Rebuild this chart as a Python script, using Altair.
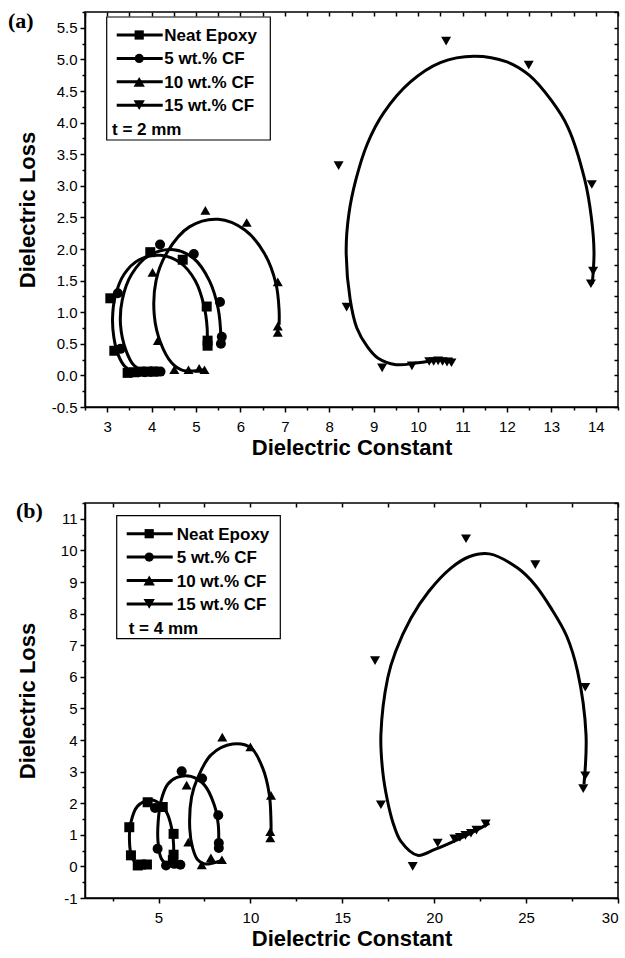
import altair as alt
import pandas as pd

SERIES = ["Neat Epoxy", "5 wt.% CF", "10 wt.% CF", "15 wt.% CF"]
SHAPES = ["square", "circle", "triangle-up", "triangle-down"]

# ---------------- panel (a): t = 2 mm  (measured points) ----------------
A_NEAT_X = [3.07, 3.16, 3.46, 3.60, 3.75, 3.90, 4.05, 3.97, 4.70, 5.24, 5.26, 5.26]
A_NEAT_Y = [1.22, 0.39, 0.04, 0.05, 0.06, 0.06, 0.06, 1.95, 1.83, 1.09, 0.55, 0.47]
A_CF5_X = [3.24, 3.30, 3.70, 3.85, 4.00, 4.10, 4.20, 4.19, 4.95, 5.54, 5.58, 5.56]
A_CF5_Y = [1.30, 0.42, 0.05, 0.05, 0.06, 0.06, 0.06, 2.07, 1.92, 1.16, 0.61, 0.50]
A_CF10_X = [4.02, 4.14, 4.51, 4.83, 5.07, 5.19, 5.21, 6.14, 6.84, 6.84, 6.84]
A_CF10_Y = [1.63, 0.55, 0.09, 0.09, 0.11, 0.09, 2.61, 2.42, 1.48, 0.78, 0.68]
A_CF15_X = [8.21, 8.39, 9.19, 9.86, 10.25, 10.35, 10.45, 10.55, 10.65, 10.75, 10.63, 12.49, 13.91, 13.94, 13.89]
A_CF15_Y = [3.32, 1.08, 0.12, 0.15, 0.22, 0.22, 0.23, 0.22, 0.21, 0.20, 5.29, 4.91, 3.02, 1.65, 1.45]

# panel (a) fitted curves
A_FIT_NEAT_X = [4.05, 3.60, 3.40, 3.25, 3.15, 3.12, 3.18, 3.38, 3.72, 4.20, 4.65, 4.98, 5.18, 5.25, 5.25]
A_FIT_NEAT_Y = [0.05, 0.06, 0.14, 0.32, 0.60, 0.90, 1.25, 1.60, 1.83, 1.90, 1.78, 1.50, 1.10, 0.75, 0.50]
A_FIT_CF5_X = [4.20, 3.85, 3.60, 3.42, 3.30, 3.34, 3.55, 3.95, 4.50, 4.95, 5.30, 5.50, 5.56]
A_FIT_CF5_Y = [0.06, 0.06, 0.16, 0.40, 0.80, 1.20, 1.60, 1.90, 1.99, 1.85, 1.50, 1.05, 0.61]
A_FIT_CF10_X = [5.20, 4.70, 4.45, 4.20, 4.06, 4.10, 4.35, 4.85, 5.50, 6.10, 6.54, 6.80, 6.87, 6.87]
A_FIT_CF10_Y = [0.09, 0.08, 0.20, 0.52, 0.95, 1.50, 1.95, 2.35, 2.47, 2.30, 1.93, 1.45, 1.03, 0.80]
A_FIT_CF15_X = [13.92, 13.96, 13.90, 13.75, 13.37, 13.00, 12.50, 12.00, 11.26, 10.50, 9.82, 9.22,
                8.86, 8.60, 8.44, 8.38, 8.47, 8.62, 8.86, 9.10, 9.50, 10.00, 10.50, 10.78]
A_FIT_CF15_Y = [1.45, 1.95, 2.50, 3.10, 3.93, 4.35, 4.75, 4.96, 5.05, 4.95, 4.64, 4.15,
                3.67, 3.10, 2.55, 1.98, 1.20, 0.75, 0.45, 0.27, 0.17, 0.20, 0.25, 0.26]

# ---------------- panel (b): t = 4 mm  (measured points) ----------------
B_NEAT_X = [3.41, 3.50, 3.87, 4.05, 4.37, 4.41, 5.23, 5.82, 5.82, 5.78]
B_NEAT_Y = [1.24, 0.35, 0.03, 0.06, 0.06, 2.03, 1.88, 1.03, 0.37, 0.20]
B_CF5_X = [4.81, 4.95, 5.41, 5.86, 6.19, 6.26, 7.37, 8.25, 8.28, 8.28]
B_CF5_Y = [1.85, 0.56, 0.03, 0.08, 0.05, 3.01, 2.78, 1.62, 0.74, 0.58]
B_CF10_X = [6.53, 6.62, 7.35, 7.85, 8.45, 8.47, 10.00, 11.12, 11.08, 11.08]
B_CF10_Y = [2.57, 0.77, 0.05, 0.27, 0.21, 4.09, 3.78, 2.25, 1.10, 0.90]
B_CF15_X = [16.78, 17.10, 18.83, 20.19, 21.10, 21.40, 21.70, 22.00, 22.30, 22.80, 21.73, 25.50, 28.22, 28.22, 28.11]
B_CF15_Y = [6.51, 1.95, 0.00, 0.74, 0.87, 0.92, 0.98, 1.05, 1.15, 1.35, 10.37, 9.55, 5.67, 2.87, 2.46]

B_FIT_NEAT_X = [4.40, 3.85, 3.55, 3.42, 3.50, 3.85, 4.59, 5.20, 5.50, 5.75, 5.82, 5.82]
B_FIT_NEAT_Y = [0.05, 0.07, 0.30, 0.80, 1.40, 1.90, 2.11, 1.92, 1.64, 1.10, 0.69, 0.20]
B_FIT_CF5_X = [6.20, 5.50, 5.15, 4.97, 4.98, 5.13, 5.50, 6.00, 6.76, 7.49, 8.03, 8.25, 8.27]
B_FIT_CF5_Y = [0.06, 0.05, 0.25, 0.80, 1.40, 2.06, 2.60, 2.82, 2.85, 2.58, 1.95, 1.32, 0.58]
B_FIT_CF10_X = [8.40, 7.50, 7.13, 6.86, 6.70, 6.80, 7.13, 7.86, 9.03, 10.03, 10.67, 11.03, 11.12, 11.12]
B_FIT_CF10_Y = [0.18, 0.08, 0.21, 0.58, 1.20, 2.20, 2.80, 3.53, 3.87, 3.75, 3.11, 2.27, 1.40, 1.00]
B_FIT_CF15_X = [28.15, 28.26, 27.80, 27.20, 26.35, 25.50, 24.54, 23.00, 21.90, 20.91, 19.70, 18.74,
                17.90, 17.47, 17.10, 17.20, 17.45, 17.75, 18.19, 19.10, 20.00, 21.27, 22.54, 23.00]
B_FIT_CF15_Y = [2.60, 4.17, 6.17, 7.30, 8.18, 8.90, 9.44, 9.89, 9.80, 9.44, 8.70, 7.86,
                6.80, 5.96, 4.17, 3.00, 2.10, 1.40, 0.79, 0.35, 0.53, 0.85, 1.22, 1.37]

# axis tick positions (major + minor)
A_X_TICKS = [2.5 + 0.5 * i for i in range(25)]      # 2.5 .. 14.5
A_Y_TICKS = [-0.5 + 0.25 * i for i in range(26)]    # -0.5 .. 5.75
B_X_TICKS = [2.5 * i for i in range(1, 13)]         # 2.5 .. 30
B_Y_TICKS = [-1 + 0.5 * i for i in range(26)]       # -1 .. 11.5

MARK_SIZES = [100, 100, 150, 150]


def points_df(xs, ys):
    rows = []
    for name, xv, yv in zip(SERIES, xs, ys):
        for a, b in zip(xv, yv):
            rows.append({"x": a, "y": b, "series": name})
    return pd.DataFrame(rows)


def fit_df(xs, ys):
    rows = []
    for name, xv, yv in zip(SERIES, xs, ys):
        for i, (a, b) in enumerate(zip(xv, yv)):
            rows.append({"x": a, "y": b, "series": name, "i": i})
    return pd.DataFrame(rows)


def minor_test(m):
    return f"abs(datum.value/{m} - round(datum.value/{m})) > 0.001"


def label_expr(m, fmt):
    return f"{minor_test(m)} ? '' : replace(format(datum.value, '{fmt}'), '\u2212', '-')"


def tick_size(m):
    return {"condition": {"test": minor_test(m), "value": 3}, "value": 5}


W, H = 533, 395
FONT = "Liberation Sans"


def legend_layers(ox, oy, text_dx, note_dx, note):
    one = alt.Data(values=[{"k": 0}])
    layers = [
        alt.Chart(one).mark_rect(fill="white", stroke="black", strokeWidth=1.2).encode(
            x=alt.value(ox), x2=alt.value(ox + 163.6), y=alt.value(oy), y2=alt.value(oy + 123)
        )
    ]
    for k, (name, shp, sz) in enumerate(zip(SERIES, SHAPES, MARK_SIZES)):
        yy = oy + 18 + 23.4 * k
        layers.append(
            alt.Chart(one).mark_rule(color="black", strokeWidth=3).encode(
                x=alt.value(ox + 10), x2=alt.value(ox + 56), y=alt.value(yy)
            )
        )
        layers.append(
            alt.Chart(one).mark_point(filled=True, color="black", opacity=1, size=sz * 0.85,
                                      shape=shp).encode(
                x=alt.value(ox + 32.5), y=alt.value(yy)
            )
        )
        layers.append(
            alt.Chart(one).mark_text(align="left", baseline="middle", font=FONT,
                                     fontSize=17, fontWeight="bold", color="black").encode(
                x=alt.value(ox + text_dx), y=alt.value(yy + 1), text=alt.value(name)
            )
        )
    layers.append(
        alt.Chart(one).mark_text(align="left", baseline="middle", font=FONT,
                                 fontSize=17, fontWeight="bold", color="black").encode(
            x=alt.value(ox + note_dx), y=alt.value(oy + 113), text=alt.value(note)
        )
    )
    return layers


def make_panel(pts, fit, xdom, ydom, xticks, yticks, xmaj, ymaj, yfmt, tag, tag_pos, leg):
    xs = alt.Scale(domain=xdom, nice=False, zero=False)
    ys = alt.Scale(domain=ydom, nice=False, zero=False)
    curves = alt.Chart(fit).mark_line(color="black", strokeWidth=3, interpolate="catmull-rom").encode(
        x=alt.X("x:Q", scale=xs, axis=alt.Axis(
            values=xticks, title="Dielectric Constant", labelExpr=label_expr(xmaj, "d"),
            tickSize=tick_size(xmaj), labelPadding=7, grid=False, titleY=40, titleBaseline="middle")),
        y=alt.Y("y:Q", scale=ys, axis=alt.Axis(
            values=yticks, title="Dielectric Loss", labelExpr=label_expr(ymaj, yfmt),
            tickSize=tick_size(ymaj), labelPadding=3, grid=False, titleX=-58, titleY=H / 2,
            titleBaseline="middle", titleAlign="center")),
        detail="series:N",
        order="i:Q",
    )
    points = alt.Chart(pts).mark_point(filled=True, color="black", opacity=1).encode(
        x=alt.X("x:Q", scale=xs, axis=alt.Axis(
            orient="top", values=xticks, labels=False, domain=False, tickSize=4, offset=-4,
            title=None, grid=False)),
        y=alt.Y("y:Q", scale=ys, axis=alt.Axis(
            orient="right", values=yticks, labels=False, domain=False, tickSize=4, offset=-4,
            title=None, grid=False)),
        shape=alt.Shape("series:N", scale=alt.Scale(domain=SERIES, range=SHAPES), legend=None),
        size=alt.Size("series:N", scale=alt.Scale(domain=SERIES, range=MARK_SIZES), legend=None),
    )
    tag_layer = alt.Chart(alt.Data(values=[{"k": 0}])).mark_text(
        font="Liberation Serif", fontSize=22, fontWeight="bold", align="left", baseline="middle",
        color="black").encode(x=alt.value(tag_pos[0]), y=alt.value(tag_pos[1]), text=alt.value(tag))
    return alt.layer(curves, points, *legend_layers(*leg), tag_layer).resolve_axis(
        x="independent", y="independent").properties(width=W, height=H)


panel_a = make_panel(
    points_df([A_NEAT_X, A_CF5_X, A_CF10_X, A_CF15_X], [A_NEAT_Y, A_CF5_Y, A_CF10_Y, A_CF15_Y]),
    fit_df([A_FIT_NEAT_X, A_FIT_CF5_X, A_FIT_CF10_X, A_FIT_CF15_X],
           [A_FIT_NEAT_Y, A_FIT_CF5_Y, A_FIT_CF10_Y, A_FIT_CF15_Y]),
    [2.5, 14.5], [-0.5, 5.75], A_X_TICKS, A_Y_TICKS, 1, 0.5, ".1f", "(a)", (-77, 9),
    (21.7, 5, 57.6, 5.3, "t = 2 mm"),
)
panel_b = make_panel(
    points_df([B_NEAT_X, B_CF5_X, B_CF10_X, B_CF15_X], [B_NEAT_Y, B_CF5_Y, B_CF10_Y, B_CF15_Y]),
    fit_df([B_FIT_NEAT_X, B_FIT_CF5_X, B_FIT_CF10_X, B_FIT_CF15_X],
           [B_FIT_NEAT_Y, B_FIT_CF5_Y, B_FIT_CF10_Y, B_FIT_CF15_Y]),
    [1, 30], [-1, 11.5], B_X_TICKS, B_Y_TICKS, 5, 1, "d", "(b)", (-69, 8),
    (31.7, 12.7, 60, 12, "t = 4 mm"),
)

chart = alt.vconcat(panel_a, panel_b, spacing=40).properties(
    padding={"left": 7, "top": 9, "right": 0, "bottom": 0}, background="white"
).configure_view(stroke="black", strokeWidth=1.5).configure_axis(
    labelFont=FONT, labelFontSize=15, labelColor="black",
    titleFont=FONT, titleFontSize=22, titleFontWeight="bold", titleColor="black",
    domainColor="black", domainWidth=1.5, tickColor="black", tickWidth=1.5,
)

chart.save("out.html", embed_options={"renderer": "svg", "actions": False})
